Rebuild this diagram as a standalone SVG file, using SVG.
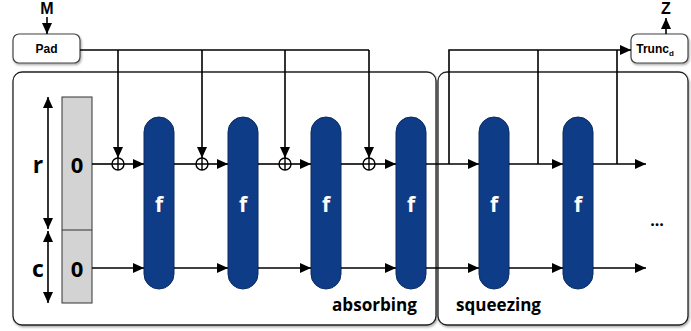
<svg xmlns="http://www.w3.org/2000/svg" width="691" height="331" viewBox="0 0 691 331">
  <defs>
    <marker id="arr" markerUnits="userSpaceOnUse" markerWidth="12" markerHeight="10" refX="11" refY="5" orient="auto">
      <path d="M0,0 L11,5 L0,10 Z" fill="#000"/>
    </marker>
    <marker id="arrs" markerUnits="userSpaceOnUse" markerWidth="12" markerHeight="10" refX="11" refY="5" orient="auto-start-reverse">
      <path d="M0,0 L11,5 L0,10 Z" fill="#000"/>
    </marker>
    <filter id="shadow" x="-10%" y="-10%" width="120%" height="130%">
      <feDropShadow dx="1" dy="1.5" stdDeviation="1" flood-color="#000" flood-opacity="0.35"/>
    </filter>
  </defs>
  <style>
    .frame { fill: #fff; stroke: #222; stroke-width: 1.3; }
    .box { fill: #fff; stroke: #444; stroke-width: 1.2; }
    .perm { fill: #0e3c86; stroke: #0a2b60; stroke-width: 1; }
    .ln { fill: none; stroke: #000; stroke-width: 1.6; }
    .xor { fill: #fff; stroke: #000; stroke-width: 1.4; }
    .lbl { font-family: "Liberation Sans", Arial, sans-serif; font-weight: bold; fill: #000; }
    .txt { font-family: "Open Sans", "Liberation Sans", sans-serif; font-weight: bold; fill: #000; }
    .ftxt { font-family: "Open Sans", "Liberation Sans", sans-serif; font-weight: bold; fill: #fff; font-size: 21px; text-anchor: middle; }
  </style>

  <!-- phase frames -->
  <g id="absorbing">
    <rect class="frame" x="13" y="72" width="423" height="253" rx="9" filter="url(#shadow)"/>
    <text class="txt" x="332" y="311" font-size="17" textLength="85" lengthAdjust="spacingAndGlyphs">absorbing</text>
  </g>
  <g id="squeezing">
    <rect class="frame" x="438" y="72" width="250" height="253" rx="9" filter="url(#shadow)"/>
    <text class="txt" x="456" y="311" font-size="17" textLength="85" lengthAdjust="spacingAndGlyphs">squeezing</text>
  </g>

  <!-- input / output labels -->
  <g id="input-M">
    <text class="lbl" x="47" y="14" font-size="16" text-anchor="middle">M</text>
  </g>
  <g id="output-Z">
    <text class="lbl" x="666" y="14" font-size="16" text-anchor="middle">Z</text>
  </g>

  <g id="pad">
    <rect class="box" x="13" y="34" width="67" height="29" rx="6" filter="url(#shadow)"/>
    <text class="lbl" x="46.5" y="53" font-size="12" text-anchor="middle">Pad</text>
  </g>
  <g id="trunc">
    <rect class="box" x="631" y="34" width="57" height="29" rx="6" filter="url(#shadow)"/>
    <text class="lbl" x="655" y="53" font-size="12" text-anchor="middle">Trunc<tspan font-size="8" dy="3">d</tspan></text>
  </g>

  <!-- state register -->
  <g id="state">
    <rect x="62" y="97" width="30" height="206" fill="#d3d3d3" stroke="#333" stroke-width="1"/>
    <line x1="62" y1="230" x2="92" y2="230" stroke="#333" stroke-width="1"/>
    <text class="txt" x="77" y="173" font-size="22" text-anchor="middle">0</text>
    <text class="txt" x="77" y="277" font-size="22" text-anchor="middle">0</text>
    <text class="txt" x="38" y="173" font-size="23" text-anchor="middle">r</text>
    <text class="txt" x="38" y="277" font-size="23" text-anchor="middle">c</text>
  </g>

  <!-- permutation blocks -->
  <g id="f1"><rect class="perm" x="144" y="117" width="30" height="172" rx="15"/><text class="ftxt" x="159" y="212">f</text></g>
  <g id="f2"><rect class="perm" x="228" y="117" width="30" height="172" rx="15"/><text class="ftxt" x="243" y="212">f</text></g>
  <g id="f3"><rect class="perm" x="311" y="117" width="30" height="172" rx="15"/><text class="ftxt" x="326" y="212">f</text></g>
  <g id="f4"><rect class="perm" x="396" y="117" width="30" height="172" rx="15"/><text class="ftxt" x="411" y="212">f</text></g>
  <g id="f5"><rect class="perm" x="479" y="117" width="30" height="172" rx="15"/><text class="ftxt" x="494" y="212">f</text></g>
  <g id="f6"><rect class="perm" x="563" y="117" width="30" height="172" rx="15"/><text class="ftxt" x="578" y="212">f</text></g>

  <g id="more">
    <text class="txt" x="657" y="226" font-size="16" text-anchor="middle">...</text>
  </g>

  <!-- connectors -->
  <g id="connectors">
    <!-- size arrows -->
    <line class="ln" x1="48" y1="97" x2="48" y2="229" marker-start="url(#arrs)" marker-end="url(#arrs)"/>
    <line class="ln" x1="48" y1="231" x2="48" y2="303" marker-start="url(#arrs)" marker-end="url(#arrs)"/>

    <!-- M into Pad, Trunc out to Z -->
    <line class="ln" x1="47" y1="17" x2="47" y2="34" marker-end="url(#arr)"/>
    <line class="ln" x1="666" y1="34" x2="666" y2="18" marker-end="url(#arr)"/>

    <!-- padded message blocks -->
    <polyline class="ln" points="80,50 369,50"/>
    <line class="ln" x1="118" y1="50" x2="118" y2="158" marker-end="url(#arr)"/>
    <line class="ln" x1="202" y1="50" x2="202" y2="158" marker-end="url(#arr)"/>
    <line class="ln" x1="285" y1="50" x2="285" y2="158" marker-end="url(#arr)"/>
    <line class="ln" x1="369" y1="50" x2="369" y2="158" marker-end="url(#arr)"/>

    <!-- rate lane -->
    <line class="ln" x1="92" y1="164" x2="112" y2="164"/>
    <line class="ln" x1="124" y1="164" x2="144" y2="164" marker-end="url(#arr)"/>
    <line class="ln" x1="174" y1="164" x2="196" y2="164"/>
    <line class="ln" x1="208" y1="164" x2="228" y2="164" marker-end="url(#arr)"/>
    <line class="ln" x1="258" y1="164" x2="279" y2="164"/>
    <line class="ln" x1="291" y1="164" x2="311" y2="164" marker-end="url(#arr)"/>
    <line class="ln" x1="341" y1="164" x2="363" y2="164"/>
    <line class="ln" x1="375" y1="164" x2="396" y2="164" marker-end="url(#arr)"/>
    <line class="ln" x1="426" y1="164" x2="479" y2="164" marker-end="url(#arr)"/>
    <line class="ln" x1="509" y1="164" x2="563" y2="164" marker-end="url(#arr)"/>
    <line class="ln" x1="593" y1="164" x2="646" y2="164" marker-end="url(#arr)"/>

    <!-- xor nodes -->
    <g class="xor">
      <circle cx="118" cy="164" r="6"/><path d="M112,164 H124 M118,158 V170" fill="none"/>
      <circle cx="202" cy="164" r="6"/><path d="M196,164 H208 M202,158 V170" fill="none"/>
      <circle cx="285" cy="164" r="6"/><path d="M279,164 H291 M285,158 V170" fill="none"/>
      <circle cx="369" cy="164" r="6"/><path d="M363,164 H375 M369,158 V170" fill="none"/>
    </g>

    <!-- output taps to Trunc -->
    <polyline class="ln" points="449,164 449,50 631,50" marker-end="url(#arr)"/>
    <line class="ln" x1="538" y1="164" x2="538" y2="50"/>
    <line class="ln" x1="617" y1="164" x2="617" y2="50"/>

    <!-- capacity lane -->
    <line class="ln" x1="92" y1="268" x2="144" y2="268" marker-end="url(#arr)"/>
    <line class="ln" x1="174" y1="268" x2="228" y2="268" marker-end="url(#arr)"/>
    <line class="ln" x1="258" y1="268" x2="311" y2="268" marker-end="url(#arr)"/>
    <line class="ln" x1="341" y1="268" x2="396" y2="268" marker-end="url(#arr)"/>
    <line class="ln" x1="426" y1="268" x2="479" y2="268" marker-end="url(#arr)"/>
    <line class="ln" x1="509" y1="268" x2="563" y2="268" marker-end="url(#arr)"/>
    <line class="ln" x1="593" y1="268" x2="646" y2="268" marker-end="url(#arr)"/>
  </g>
</svg>
